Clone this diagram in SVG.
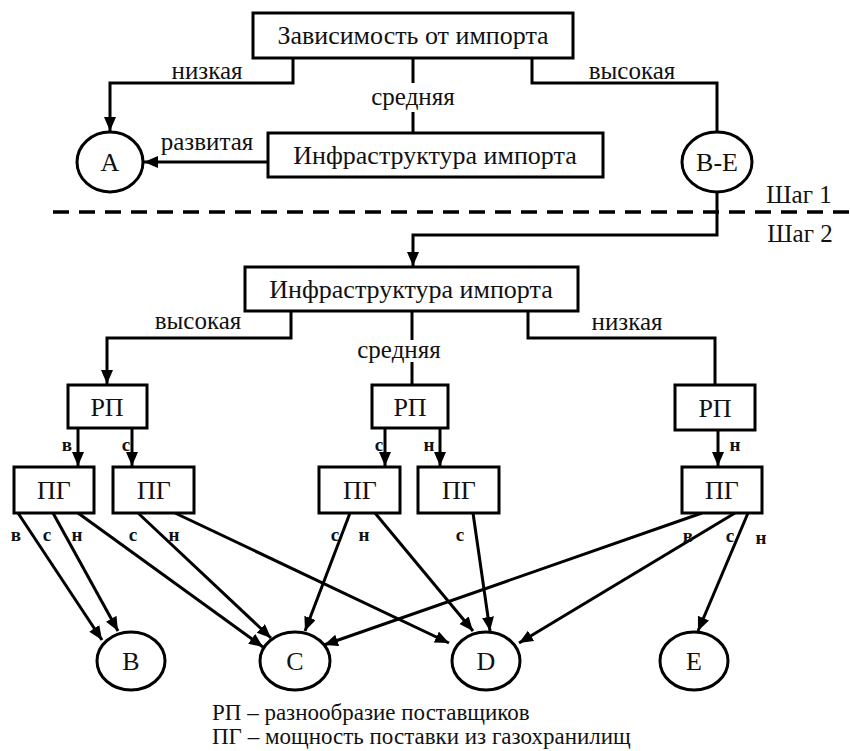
<svg xmlns="http://www.w3.org/2000/svg" width="850" height="751" viewBox="0 0 850 751">
<defs>
<marker id="arr" markerUnits="userSpaceOnUse" markerWidth="15" markerHeight="13" refX="14" refY="6" orient="auto">
<path d="M0,0 L14,6 L0,12 z" fill="#000"/>
</marker>
<style>
.box{fill:#fff;stroke:#000;stroke-width:3}
.t{font-family:"Liberation Serif","Times New Roman",serif;font-size:26px;fill:#111;text-anchor:middle}
.lbl{font-family:"Liberation Serif","Times New Roman",serif;font-size:25px;fill:#111;text-anchor:middle}
.sm{font-family:"Liberation Serif","Times New Roman",serif;font-size:19px;font-weight:bold;fill:#111;text-anchor:middle}
.leg{font-family:"Liberation Serif","Times New Roman",serif;font-size:23px;fill:#111}
.c{fill:none;stroke:#000;stroke-width:3}
.a{fill:none;stroke:#000;stroke-width:3;marker-end:url(#arr)}
.d{fill:none;stroke:#000;stroke-width:3.5;stroke-dasharray:16 10}
</style>
</defs>
<rect width="850" height="751" fill="#fff"/>

<g id="connectors">
<path class="a" d="M293,58 V83 H110 V131"/>
<path class="c" d="M413,58 V83"/>
<path class="c" d="M413,112 V133"/>
<path class="c" d="M532,58 V83 H717 V132"/>
<path class="a" d="M268,162 H144"/>
<path class="a" d="M717,192 V235 H413 V266"/>
<path class="a" d="M291,311 V338 H107 V384"/>
<path class="c" d="M412,311 V340"/>
<path class="c" d="M412,362 V385"/>
<path class="c" d="M528,311 V338 H715 V385"/>
<path class="a" d="M78,428 V466"/>
<path class="a" d="M132,428 V466"/>
<path class="a" d="M385,428 V466"/>
<path class="a" d="M440,428 V466"/>
<path class="a" d="M718,430 V466"/>
<path class="a" d="M18,513 L102,640"/>
<path class="a" d="M53,513 L118,631"/>
<path class="a" d="M78,513 L263,647"/>
<path class="a" d="M138,513 L271,638"/>
<path class="a" d="M175,513 L449,643"/>
<path class="a" d="M350,513 L305,631"/>
<path class="a" d="M375,513 L473,631"/>
<path class="a" d="M473,513 L490,631"/>
<path class="a" d="M702,513 L324,645"/>
<path class="a" d="M735,513 L519,643"/>
<path class="a" d="M748,513 L698,631"/>
<path class="d" d="M53,212 H850"/>
</g>

<g id="labels">
<text class="lbl" x="207" y="79">низкая</text>
<text class="lbl" x="413" y="105">средняя</text>
<text class="lbl" x="632" y="79">высокая</text>
<text class="lbl" x="207" y="150">развитая</text>
<text class="lbl" x="799" y="203">Шаг 1</text>
<text class="lbl" x="800" y="242">Шаг 2</text>
<text class="lbl" x="198" y="329">высокая</text>
<text class="lbl" x="399" y="358">средняя</text>
<text class="lbl" x="627" y="330">низкая</text>
<text class="sm" x="67" y="451">в</text>
<text class="sm" x="126" y="451">с</text>
<text class="sm" x="379" y="451">с</text>
<text class="sm" x="429" y="451">н</text>
<text class="sm" x="735" y="451">н</text>
<text class="sm" x="16" y="541">в</text>
<text class="sm" x="47" y="541">с</text>
<text class="sm" x="77" y="541">н</text>
<text class="sm" x="133" y="541">с</text>
<text class="sm" x="174" y="541">н</text>
<text class="sm" x="335" y="541">с</text>
<text class="sm" x="364" y="541">н</text>
<text class="sm" x="460" y="541">с</text>
<text class="sm" x="688" y="542">в</text>
<text class="sm" x="730" y="542">с</text>
<text class="sm" x="761" y="544">н</text>
</g>

<g id="n-dep"><rect class="box" x="253" y="13" width="320" height="45"/><text class="t" x="413" y="44">Зависимость от импорта</text></g>
<g id="n-infra1"><rect class="box" x="268" y="133" width="335" height="44"/><text class="t" x="435" y="164">Инфраструктура импорта</text></g>
<g id="n-A"><ellipse class="box" cx="110" cy="162" rx="33" ry="30"/><text class="t" x="110" y="171">A</text></g>
<g id="n-BE"><ellipse class="box" cx="717" cy="162" rx="35" ry="30"/><text class="t" x="717" y="171">B-E</text></g>
<g id="n-infra2"><rect class="box" x="245" y="267" width="333" height="44"/><text class="t" x="411" y="298">Инфраструктура импорта</text></g>
<g id="n-rp1"><rect class="box" x="68" y="385" width="79" height="43"/><text class="t" x="107" y="416">РП</text></g>
<g id="n-rp2"><rect class="box" x="372" y="385" width="76" height="43"/><text class="t" x="410" y="416">РП</text></g>
<g id="n-rp3"><rect class="box" x="675" y="385" width="80" height="45"/><text class="t" x="715" y="417">РП</text></g>
<g id="n-pg1"><rect class="box" x="14" y="467" width="80" height="46"/><text class="t" x="54" y="499">ПГ</text></g>
<g id="n-pg2"><rect class="box" x="113" y="467" width="81" height="46"/><text class="t" x="154" y="499">ПГ</text></g>
<g id="n-pg3"><rect class="box" x="319" y="467" width="81" height="46"/><text class="t" x="360" y="499">ПГ</text></g>
<g id="n-pg4"><rect class="box" x="418" y="467" width="81" height="46"/><text class="t" x="459" y="499">ПГ</text></g>
<g id="n-pg5"><rect class="box" x="682" y="467" width="80" height="46"/><text class="t" x="722" y="499">ПГ</text></g>
<g id="n-B"><ellipse class="box" cx="131" cy="661" rx="34" ry="29"/><text class="t" x="131" y="670">B</text></g>
<g id="n-C"><ellipse class="box" cx="295" cy="661" rx="35" ry="29"/><text class="t" x="295" y="670">C</text></g>
<g id="n-D"><ellipse class="box" cx="486" cy="661" rx="34" ry="29"/><text class="t" x="486" y="670">D</text></g>
<g id="n-E"><ellipse class="box" cx="694" cy="661" rx="34" ry="29"/><text class="t" x="694" y="670">E</text></g>

<g id="legend">
<text class="leg" x="212" y="720">РП – разнообразие поставщиков</text>
<text class="leg" x="212" y="744">ПГ – мощность поставки из газохранилищ</text>
</g>
</svg>
